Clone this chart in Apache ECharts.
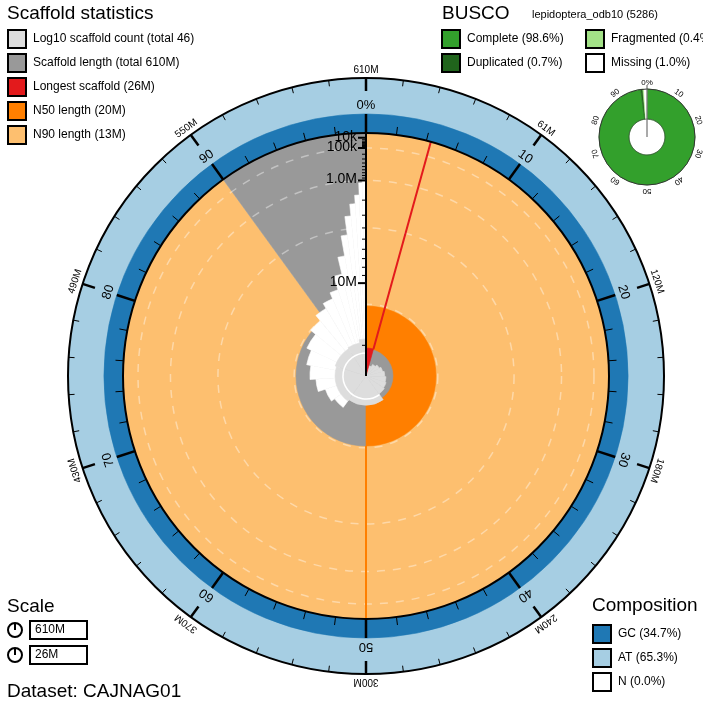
<!DOCTYPE html>
<html><head><meta charset="utf-8">
<script src="https://cdn.jsdelivr.net/npm/echarts@6/dist/echarts.min.js"></script>
<style>html,body{margin:0;padding:0;background:#fff}#c{width:703px;height:709px}</style>
</head><body><div id="c"></div>
<script>
// ---------- data ----------
const assemblySpanM = 610;
const longestM = 26.2;
const n50M = 20;
const n90M = 13;
const gcPct = 34.7, atPct = 65.3, nPct = 0.0;
const longestPct = 4.3;
// scaffold length steps (percent end, length Mb)
const lenPctEnd = [4.3, 8.3, 12.2, 16.1, 20, 24, 28, 32, 36, 40, 45, 50, 55, 60, 65, 70, 74, 78, 82, 86, 89, 91.5, 93.5, 95, 96.3, 97.2, 97.9, 98.5, 99, 99.4, 99.7, 100];
const lenMb =     [26.2, 25, 24.5, 24, 23.5, 23, 22.5, 22, 21.5, 21, 20.5, 20, 19.5, 19, 18.5, 17.8, 16.5, 15.5, 14.8, 14.0, 13.0, 12.0, 11.2, 10.3, 8.5, 6.5, 4.5, 3.0, 2.2, 1.7, 1.1, 1.0];
// cumulative scaffold count steps
const cntPctEnd = [4.3, 8.3, 12.3, 16.5, 21, 25.5, 30, 34.5, 40, 60, 80, 91, 97, 100];
const cntVal =    [1, 2, 3, 4, 5, 6, 7, 8, 9, 20, 24, 28, 32, 46];
const totalCount = 46;
const radialTicks = [0.01, 0.1, 1, 10];
const radialTickLabels = ['10k', '100k', '1.0M', '10M'];
const pctLabels = ['0%', '10', '20', '30', '40', '50', '60', '70', '80', '90'];
const spanLabels = ['610M', '61M', '120M', '180M', '240M', '300M', '370M', '430M', '490M', '550M'];
// BUSCO
const buscoSingle = 97.9, buscoDup = 0.7, buscoFrag = 0.4, buscoMissing = 1.0;
const buscoLabels = ['0%', '10', '20', '30', '40', '50', '60', '70', '80', '90'];

// ---------- style constants ----------
const R_IN = 243, R_OUT = 298, R_N50 = 70, R_CORE = 27, R_CNT = 37;
const FONT = 'Liberation Sans, Arial, sans-serif';
const C = {lg:'#dddddd', g:'#999999', red:'#e31a1c', or:'#ff7f00', lor:'#fdbf6f', gc:'#1f78b4', at:'#a6cee3',
  bc:'#33a02c', bd:'#20641c', bf:'#a3e287'};

function lenR(L){ return R_IN * (1 - Math.sqrt(L / longestM)); }
function cntR(n){ return R_CNT * Math.log10(n + 1) / Math.log10(totalCount + 1); }
function ang(p){ return -Math.PI/2 + p/100*2*Math.PI; }

function helpers(api){
  const c = api.coord([0, 0]);
  const q = api.coord([100, 0]);
  const k = Math.hypot(q[0]-c[0], q[1]-c[1]) / 100;
  const sec = (p0, p1, r0, r1, fill) => ({type:'sector', shape:{cx:c[0], cy:c[1], r0:r0*k, r:r1*k, startAngle:ang(p0), endAngle:ang(p1), clockwise:true}, style:{fill:fill, stroke:fill, lineWidth:0.6}});
  const pt = (r, p) => api.coord([r, p]);
  const line = (p, r0, r1, stroke, w) => { const a = pt(r0, p), b = pt(r1, p); return {type:'line', shape:{x1:a[0], y1:a[1], x2:b[0], y2:b[1]}, style:{stroke:stroke, lineWidth:w}}; };
  const circ = (r, stroke, w, dash) => ({type:'circle', shape:{cx:c[0], cy:c[1], r:r*k}, style:{fill:null, stroke:stroke, lineWidth:w, lineDash:dash||null}});
  const txt = (r, p, s, size, rot) => { const a = pt(r, p); return {type:'text', x:a[0], y:a[1], rotation: rot ? -(p/100*2*Math.PI) : 0, style:{text:s, fill:'#000', font: size+'px '+FONT, align:'center', verticalAlign:'middle'}}; };
  return {c, k, sec, pt, line, circ, txt};
}

function renderSnail(params, api){
  const h = helpers(api);
  const ch = [];
  const gcR = R_IN + (R_OUT - R_IN) * gcPct / 100;
  ch.push(h.sec(0, 100, gcR, R_OUT, C.at));
  ch.push(h.sec(0, 100, R_IN, gcR, C.gc));
  ch.push(h.sec(0, 90, 0, R_IN, C.lor));
  ch.push(h.sec(90, 100, 0, R_IN, C.g));
  [0.1, 1, 4, n90M].forEach(L => ch.push(h.circ(lenR(L), 'rgba(255,255,255,0.4)', 1.5, [8, 8])));
  ch.push(h.sec(50, 100, 0, R_N50, C.g));
  ch.push(h.sec(0, 50, 0, R_N50, C.or));
  let prev = 0;
  lenPctEnd.forEach((e, i) => { if (e > 60) ch.push(h.sec(prev, e, 0, lenR(lenMb[i]), '#ffffff')); prev = e; });
  ch.push(h.sec(0, 100, 0, R_CORE, C.g));
  prev = 0;
  cntPctEnd.forEach((e, i) => { ch.push(h.sec(prev, e, 0, cntR(cntVal[i]), C.lg)); prev = e; });
  ch.push({type:'arc', shape:{cx:h.c[0], cy:h.c[1], r:cntR(10)*h.k, startAngle:ang(40), endAngle:ang(100), clockwise:true}, style:{stroke:'#fff', lineWidth:1.5, fill:null}});
  ch.push(h.sec(0, longestPct, 0, 28, C.red));
  ch.push(h.line(longestPct, 28, R_IN, C.red, 2));
  ch.push(h.line(50, R_N50, R_IN, C.or, 2));
  ch.push(h.line(0, 0, R_IN, '#000', 2));
  const minor = [];
  [0.01, 0.1, 1].forEach(b => { for (let m = 2; m <= 9; m++) minor.push(b*m); });
  minor.push(20);
  minor.forEach(L => { const a = h.pt(lenR(L), 0); ch.push({type:'line', shape:{x1:a[0]-4, y1:a[1], x2:a[0], y2:a[1]}, style:{stroke:'#000', lineWidth:1}}); });
  radialTicks.forEach((L, i) => {
    const a = h.pt(lenR(L), 0);
    ch.push({type:'line', shape:{x1:a[0]-8, y1:a[1], x2:a[0], y2:a[1]}, style:{stroke:'#000', lineWidth:2}});
    ch.push({type:'text', x:a[0]-9, y:a[1]-1, style:{text:radialTickLabels[i], fill:'#000', font:'14px '+FONT, align:'right', verticalAlign:'middle'}});
  });
  ch.push(h.circ(R_IN, '#000', 2));
  ch.push(h.circ(R_OUT, '#000', 2));
  for (let p = 0; p < 100; p += 2) {
    const major = p % 10 === 0;
    ch.push(h.line(p, R_IN, R_IN + (major ? 19 : 8), '#000', major ? 2.5 : 1));
    ch.push(h.line(p, R_OUT, R_OUT - (major ? 13 : 6), '#000', major ? 2.5 : 1));
  }
  pctLabels.forEach((s, i) => ch.push(h.txt(271, i*10, s, 13, true)));
  spanLabels.forEach((s, i) => ch.push(h.txt(306, i*10, s, 10, true)));
  return {type:'group', children:ch};
}

function renderBusco(params, api){
  const h = helpers(api);
  const ch = [];
  const segs = [[buscoSingle, C.bc], [buscoDup, C.bd], [buscoFrag, C.bf], [buscoMissing, '#fff']];
  let s = 0;
  segs.forEach(([v, col]) => { ch.push(h.sec(s, s+v, 18, 48, col)); s += v; });
  ch.push(h.circ(48, '#333', 1));
  ch.push(h.circ(18, '#333', 0.6));
  ch.push(h.line(0, 0, 52, '#555', 1));
  buscoLabels.forEach((t, i) => ch.push(h.txt(54, i*10, t, 8, true)));
  return {type:'group', children:ch};
}

const G = [];
function box(x, y, fill){ G.push({type:'rect', shape:{x:x, y:y, width:18, height:18}, style:{fill:fill, stroke:'#000', lineWidth:2}}); }
function label(x, y, s, size){ G.push({type:'text', x:x, y:y, style:{text:s, fill:'#000', font:(size||12)+'px '+FONT, verticalAlign:'middle'}}); }
label(7, 14, 'Scaffold statistics', 19);
const ssItems = [[C.lg, 'Log10 scaffold count (total ' + totalCount + ')'], [C.g, 'Scaffold length (total ' + assemblySpanM + 'M)'],
  [C.red, 'Longest scaffold (' + Math.round(longestM) + 'M)'], [C.or, 'N50 length (' + n50M + 'M)'], [C.lor, 'N90 length (' + n90M + 'M)']];
ssItems.forEach((it, i) => { box(8, 30 + i*24, it[0]); label(33, 39 + i*24, it[1], 12); });
label(442, 14, 'BUSCO', 19);
label(532, 15, 'lepidoptera_odb10 (5286)', 11);
box(442, 30, C.bc); label(467, 39, 'Complete (' + (buscoSingle + buscoDup).toFixed(1) + '%)');
box(442, 54, C.bd); label(467, 63, 'Duplicated (' + buscoDup.toFixed(1) + '%)');
box(586, 30, C.bf); label(611, 39, 'Fragmented (' + buscoFrag.toFixed(1) + '%)');
box(586, 54, '#fff'); label(611, 63, 'Missing (' + buscoMissing.toFixed(1) + '%)');
label(7, 607, 'Scale', 19);
[[630, assemblySpanM + 'M'], [655, Math.round(longestM) + 'M']].forEach(([y, s]) => {
  G.push({type:'circle', shape:{cx:15, cy:y, r:7}, style:{fill:'#fff', stroke:'#000', lineWidth:2}});
  G.push({type:'line', shape:{x1:15, y1:y-7, x2:15, y2:y}, style:{stroke:'#000', lineWidth:2}});
  G.push({type:'rect', shape:{x:30, y:y-9, width:57, height:18}, style:{fill:'#fff', stroke:'#000', lineWidth:2}});
  label(35, y, s, 12);
});
label(7, 692, 'Dataset: CAJNAG01', 19);
label(592, 606, 'Composition', 19);
[[C.gc, 'GC (' + gcPct.toFixed(1) + '%)'], [C.at, 'AT (' + atPct.toFixed(1) + '%)'], ['#fff', 'N (' + nPct.toFixed(1) + '%)']].forEach((it, i) => {
  box(593, 625 + i*24, it[0]); label(618, 634 + i*24, it[1], 12);
});

const chart = echarts.init(document.getElementById('c'), null, {renderer:'canvas'});
chart.setOption({
  animation:false,
  polar:[{center:[366, 376], radius:[0, R_OUT]}, {center:[647, 137], radius:[0, 48]}],
  radiusAxis:[{polarIndex:0, type:'value', min:0, max:R_OUT, show:false}, {polarIndex:1, type:'value', min:0, max:48, show:false}],
  angleAxis:[{polarIndex:0, type:'value', min:0, max:100, startAngle:90, clockwise:true, show:false},
             {polarIndex:1, type:'value', min:0, max:100, startAngle:90, clockwise:true, show:false}],
  series:[
    {type:'custom', coordinateSystem:'polar', polarIndex:0, data:[[0, 0]], renderItem:renderSnail, silent:true},
    {type:'custom', coordinateSystem:'polar', polarIndex:1, data:[[0, 0]], renderItem:renderBusco, silent:true}
  ],
  graphic:G
});
</script></body></html>
